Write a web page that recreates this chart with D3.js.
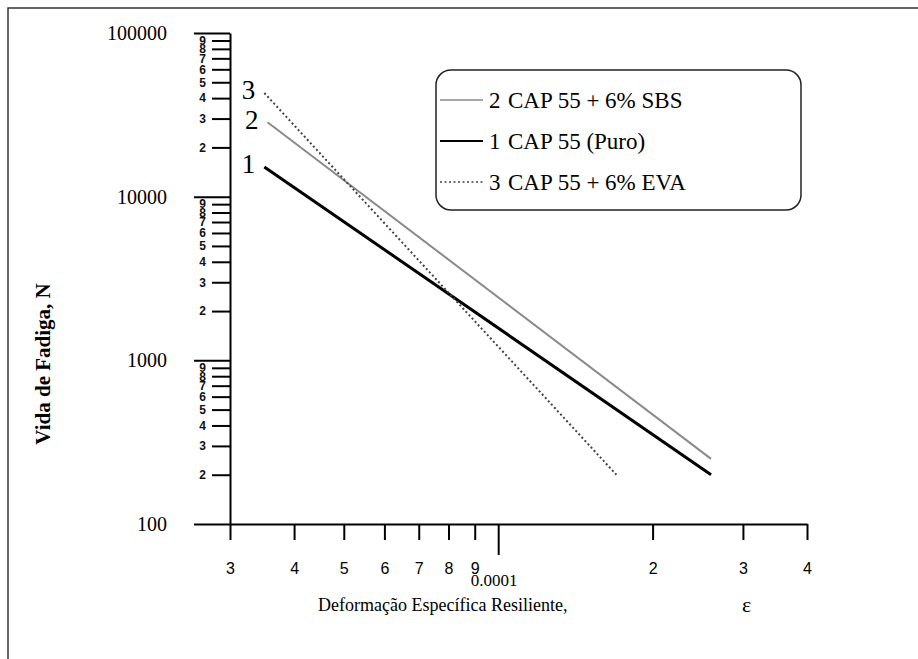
<!DOCTYPE html>
<html>
<head>
<meta charset="utf-8">
<script src="https://cdn.jsdelivr.net/npm/d3@7"></script>
<style>
  html, body { margin: 0; padding: 0; background: #fff; }
  svg { display: block; }
</style>
</head>
<body>
<svg id="chart" width="918" height="659"></svg>
<script>
// Fatigue life vs resilient strain, log-log, three binders
const seriesNames = ["CAP 55 + 6% SBS", "CAP 55 (Puro)", "CAP 55 + 6% EVA"];
const seriesIds = ["2", "1", "3"];
const strainStart = [3.55e-5, 3.5e-5, 3.5e-5];
const strainEnd = [2.6e-4, 2.6e-4, 1.7e-4];
const lifeStart = [28500, 15200, 43000];
const lifeEnd = [250, 200, 200];

const xTickValues = [3e-5, 4e-5, 5e-5, 6e-5, 7e-5, 8e-5, 9e-5, 1e-4, 2e-4, 3e-4, 4e-4];
const xTickLabels = ["3", "4", "5", "6", "7", "8", "9", "", "2", "3", "4"];
const yDecades = [100, 1000, 10000, 100000];
const yDecadeLabels = ["100", "1000", "10000", "100000"];
const yMinorDigits = [2, 3, 4, 5, 6, 7, 8, 9];

const serif = "'Liberation Serif', 'Times New Roman', serif";
const sans = "'Liberation Sans', Arial, sans-serif";

const svg = d3.select("#chart");

// page frame (top and left edges of the sheet)
svg.append("path")
  .attr("d", "M8,659 L8,8 L918,8")
  .attr("fill", "none").attr("stroke", "#333").attr("stroke-width", 1.5);

const x = d3.scaleLog().domain([3e-5, 4e-4]).range([230, 807]);
const y = d3.scaleLog().domain([100, 100000]).range([524, 33]);

const g = svg.append("g");

// x axis
const xAxis = d3.axisBottom(x)
  .tickValues(xTickValues)
  .tickFormat((d, i) => xTickLabels[i])
  .tickSize(16)
  .tickSizeOuter(0)
  .tickPadding(23);
const gx = g.append("g").attr("transform", `translate(0,${y(100)})`).call(xAxis);
gx.select(".domain").attr("stroke", "#000").attr("stroke-width", 2);
gx.selectAll(".tick line").attr("stroke", "#000").attr("stroke-width", 2)
  .attr("y2", d => d === 1e-4 ? 31 : 16);
gx.selectAll(".tick text").attr("font-family", sans).attr("font-size", 16).attr("fill", "#000");
g.append("text")
  .attr("x", x(1e-4) - 4).attr("y", y(100) + 62)
  .attr("text-anchor", "middle")
  .attr("font-family", serif).attr("font-size", 17)
  .text("0.0001");

// y axis: decade ticks long, minor ticks labelled with their digit
const yMinor = [];
yDecades.slice(0, 3).forEach(dv => yMinorDigits.forEach(m => yMinor.push({ v: dv * m, m })));
const yAxis = d3.axisLeft(y).tickValues(yDecades).tickFormat(() => "").tickSize(36).tickSizeOuter(0);
const gy = g.append("g").attr("transform", `translate(${x(3e-5)},0)`).call(yAxis);
gy.select(".domain").attr("stroke", "#000").attr("stroke-width", 2);
gy.selectAll(".tick line").attr("stroke", "#000").attr("stroke-width", 2);

const yAxisMinor = d3.axisLeft(y).tickValues(yMinor.map(d => d.v))
  .tickFormat((d, i) => String(yMinor[i].m)).tickSize(18).tickPadding(6);
const gym = g.append("g").attr("transform", `translate(${x(3e-5)},0)`).call(yAxisMinor);
gym.select(".domain").remove();
gym.selectAll(".tick line").attr("stroke", "#000").attr("stroke-width", 2);
gym.selectAll(".tick text").attr("font-family", sans).attr("font-size", 12)
  .attr("font-weight", "bold").attr("fill", "#111");

g.selectAll(".ydec").data(yDecades).join("text")
  .attr("class", "ydec")
  .attr("x", 167).attr("y", d => y(d))
  .attr("dy", "0.35em").attr("text-anchor", "end")
  .attr("font-family", serif).attr("font-size", 20)
  .text((d, i) => yDecadeLabels[i]);

// axis titles
svg.append("text")
  .attr("transform", "translate(50,364) rotate(-90)")
  .attr("text-anchor", "middle")
  .attr("font-family", serif).attr("font-size", 21).attr("font-weight", "bold")
  .text("Vida de Fadiga, N");
svg.append("text")
  .attr("x", 318).attr("y", 611)
  .attr("font-family", serif).attr("font-size", 18)
  .text("Deformação Específica Resiliente,");
svg.append("text")
  .attr("x", 742).attr("y", 612)
  .attr("font-family", serif).attr("font-size", 22)
  .text("ε");

// series styles
const styles = {
  "1": { stroke: "#000", width: 3, dash: null },
  "2": { stroke: "#8a8a8a", width: 2, dash: null },
  "3": { stroke: "#444", width: 2, dash: "2,2.5" }
};

const lines = seriesIds.map((id, i) => ({
  id,
  pts: [[strainStart[i], lifeStart[i]], [strainEnd[i], lifeEnd[i]]]
}));
const lineGen = d3.line().x(d => x(d[0])).y(d => y(d[1]));

g.selectAll(".series").data(lines).join("path")
  .attr("class", "series")
  .attr("d", d => lineGen(d.pts))
  .attr("fill", "none")
  .attr("stroke", d => styles[d.id].stroke)
  .attr("stroke-width", d => styles[d.id].width)
  .attr("stroke-dasharray", d => styles[d.id].dash);

// curve numbers at the start of each line
g.selectAll(".num").data(lines).join("text")
  .attr("class", "num")
  .attr("x", d => x(d.pts[0][0]) - 9)
  .attr("y", d => y(d.pts[0][1]) - 3)
  .attr("dy", "0.35em")
  .attr("text-anchor", "end")
  .attr("font-family", serif).attr("font-size", 27)
  .text(d => d.id);

// legend
const lg = svg.append("g");
lg.append("rect")
  .attr("x", 436).attr("y", 70).attr("width", 365).attr("height", 140)
  .attr("rx", 15).attr("ry", 15)
  .attr("fill", "#fff").attr("stroke", "#222").attr("stroke-width", 1.5);
const rowY = i => 100 + i * 41;
lines.forEach((d, i) => {
  lg.append("line")
    .attr("x1", 440).attr("x2", 483).attr("y1", rowY(i)).attr("y2", rowY(i))
    .attr("stroke", styles[d.id].stroke)
    .attr("stroke-width", d.id === "1" ? 2 : 1.5)
    .attr("stroke-dasharray", styles[d.id].dash);
  lg.append("text")
    .attr("x", 489).attr("y", rowY(i)).attr("dy", "0.35em")
    .attr("font-family", serif).attr("font-size", 23)
    .text(d.id);
  lg.append("text")
    .attr("x", 508).attr("y", rowY(i)).attr("dy", "0.35em")
    .attr("font-family", serif).attr("font-size", 23)
    .text(seriesNames[i]);
});
</script>
</body>
</html>
